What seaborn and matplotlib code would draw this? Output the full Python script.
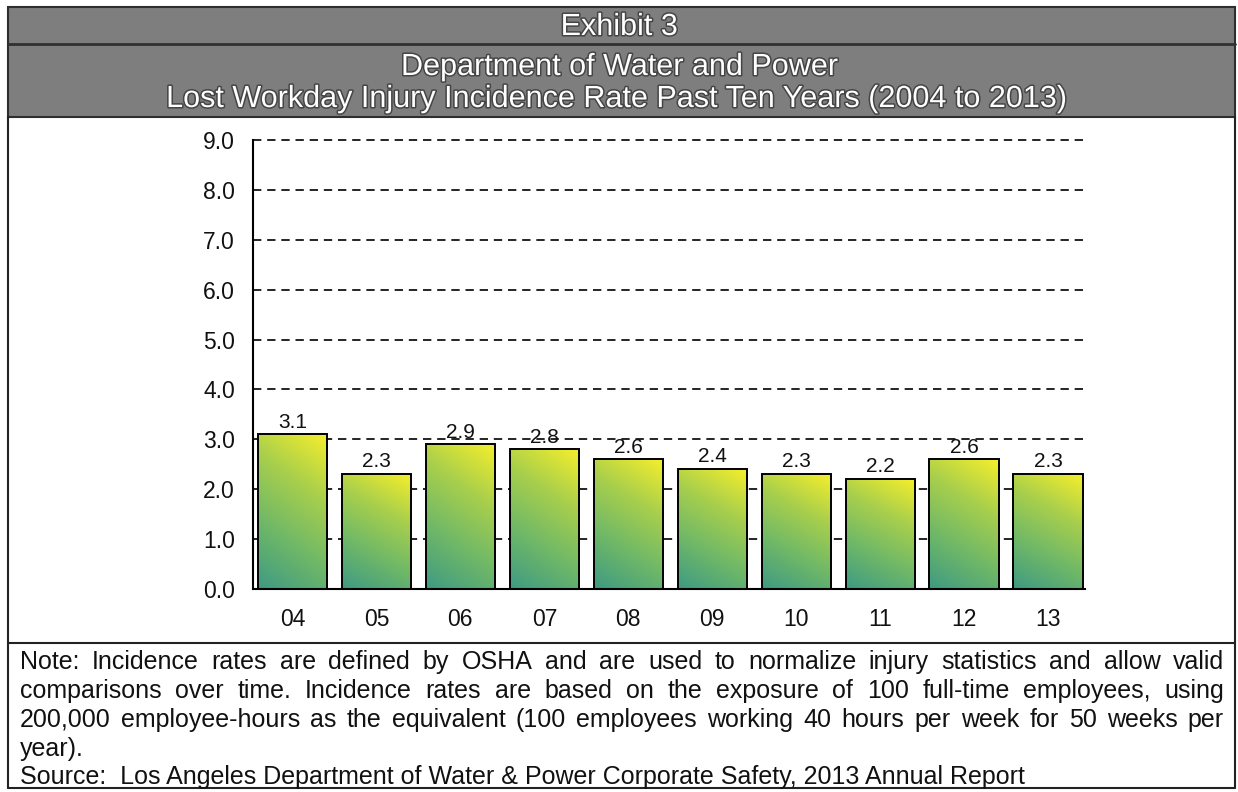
import numpy as np
import matplotlib
matplotlib.use("Agg")
import matplotlib.pyplot as plt
import matplotlib.patheffects as pe
from matplotlib.colors import LinearSegmentedColormap
from matplotlib.patches import Rectangle
from matplotlib.lines import Line2D
import seaborn as sns

years = ["04", "05", "06", "07", "08", "09", "10", "11", "12", "13"]
rates = [3.1, 2.3, 2.9, 2.8, 2.6, 2.4, 2.3, 2.2, 2.6, 2.3]
y_ticks = [0, 1, 2, 3, 4, 5, 6, 7, 8, 9]

exhibit_label = "Exhibit 3"
title_lines = ["Department of Water and Power",
               "Lost Workday Injury Incidence Rate Past Ten Years (2004 to 2013)"]
note_lines = [
    "Note: Incidence rates are defined by OSHA and are used to normalize injury statistics and allow valid",
    "comparisons over time. Incidence rates are based on the exposure of 100 full-time employees, using",
    "200,000 employee-hours as the equivalent (100 employees working 40 hours per week for 50 weeks per",
]
note_last = "year)."
source_line = "Source:  Los Angeles Department of Water & Power Corporate Safety, 2013 Annual Report"

W, H = 1238, 792

sns.set_theme(style="white")
plt.rcParams['font.family'] = ['Liberation Sans', 'DejaVu Sans']

fig = plt.figure(figsize=(W / 100, H / 100), dpi=100)
fig.patch.set_facecolor("white")


def fx(x):
    return x / W


def fy(y):
    return 1 - y / H


def hline(x0, x1, y, lw=1.5, color="#222222"):
    fig.add_artist(Line2D([fx(x0), fx(x1)], [fy(y), fy(y)], transform=fig.transFigure,
                          color=color, lw=lw))


def vline(x, y0, y1, lw=1.5, color="#222222"):
    fig.add_artist(Line2D([fx(x), fx(x)], [fy(y0), fy(y1)], transform=fig.transFigure,
                          color=color, lw=lw))


# grey header band
fig.add_artist(Rectangle((fx(8), fy(117)), fx(1235) - fx(8), fy(7) - fy(117),
                         transform=fig.transFigure, facecolor="#7e7e7e",
                         edgecolor="#2e2e2e", lw=1.5))
hline(8, 1235, 44, lw=2.0, color="#303030")

halo = [pe.withStroke(linewidth=2.2, foreground="#454545")]
title_size = 22
fig.text(fx(619), fy(27), exhibit_label, color="white", fontsize=title_size,
         ha="center", va="center", path_effects=halo)
fig.text(fx(619), fy(67), title_lines[0], color="white", fontsize=title_size,
         ha="center", va="center", path_effects=halo)
fig.text(fx(616), fy(99), title_lines[1], color="white", fontsize=title_size,
         ha="center", va="center", path_effects=halo)

# frame around chart and note
vline(8, 117, 788)
vline(1235, 117, 788)
hline(8, 1235, 643)
hline(8, 1235, 788)

# chart
ax = fig.add_axes([fx(253), fy(589), fx(1085) - fx(253), fy(140) - fy(589)])
sns.barplot(x=years, y=rates, ax=ax, width=0.825, color="white",
            edgecolor="black", linewidth=1.4, zorder=2)

cmap = LinearSegmentedColormap.from_list(
    "bar_grad", ["#3f9a82", "#6fb868", "#a8cf4c", "#f5ee2c"])
vv, hh = np.mgrid[0:1:80j, 0:1:40j]
grad = 0.75 * vv + 0.25 * hh

for patch in ax.patches:
    patch.set_facecolor("none")
    patch.set_zorder(2)
    x0, y0 = patch.get_x(), patch.get_y()
    w, h = patch.get_width(), patch.get_height()
    im = ax.imshow(grad, cmap=cmap, origin="lower", aspect="auto",
                   extent=(x0, x0 + w, y0, y0 + h), zorder=1.5, interpolation="bilinear")
    im.set_clip_path(patch)

ax.bar_label(ax.containers[0], fmt="%.1f", padding=2, fontsize=15, color="#111111")

for v in y_ticks[1:]:
    ax.axhline(v, color="black", lw=1.2, ls=(0, (5, 3.5)), zorder=0.5, clip_on=False)

ax.set_xlim(-0.47, 9.44)
ax.set_ylim(0, 9)
ax.set_yticks(y_ticks)
ax.set_yticklabels([f"{v:.1f}" for v in y_ticks])
ax.tick_params(axis="y", length=0, pad=13, labelsize=16.5, labelcolor="#111111")
ax.tick_params(axis="x", length=0, pad=13.5, labelsize=16.5, labelcolor="#111111")
ax.set_xlabel("")
ax.set_ylabel("")
sns.despine(ax=ax)
for side in ["left", "bottom"]:
    ax.spines[side].set_color("black")
    ax.spines[side].set_linewidth(1.5)
ax.set_facecolor("none")

# note, justified like the source document
renderer = fig.canvas.get_renderer()
note_size = 18
line_y = [662, 691, 720]


def justify(line, y, x0, x1):
    words = line.split(" ")
    texts = [fig.text(0, fy(y), wd, fontsize=note_size, va="center", color="#111111")
             for wd in words]
    widths = [t.get_window_extent(renderer).width for t in texts]
    gap = (x1 - x0 - sum(widths)) / (len(words) - 1)
    x = x0
    for t, wd in zip(texts, widths):
        t.set_x(fx(x))
        x += wd + gap


for line, y in zip(note_lines, line_y):
    justify(line, y, 20, 1224)

fig.text(fx(20), fy(749), note_last, fontsize=note_size, va="center", color="#111111")
fig.text(fx(20), fy(777), source_line, fontsize=note_size, va="center", color="#111111")

fig.savefig("out.png", dpi=100)
